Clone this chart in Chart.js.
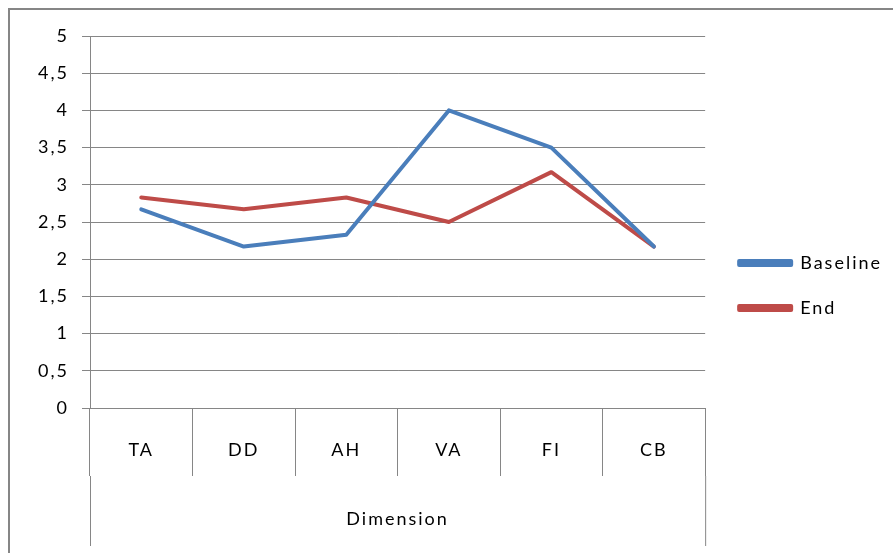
<!DOCTYPE html>
<html lang="en">
<head>
    <meta charset="UTF-8">
    <meta name="viewport" content="width=device-width, initial-scale=1.0">
    <script src="https://cdn.jsdelivr.net/npm/chart.js"></script>
    <title>Baseline x End</title>
    <style>
      body { margin: 0; background: #fff; }
      #box { width: 893px; height: 553px; }
    </style>
</head>
<body>
    <div id="box">
        <canvas id="myLineChart" width="893" height="553"></canvas>
    </div>

<script>
  // dados do grafico
  const dimensoes = ["TA", "DD", "AH", "VA", "FI", "CB"];
  const baseline = [2.67, 2.17, 2.33, 4.0, 3.5, 2.17];
  const fim = [2.83, 2.67, 2.83, 2.5, 3.17, 2.17];
  const tituloEixoX = "Dimension";

  const cinza = "#868686";
  const fonte = { family: "Lato", size: 18 };

  // texto um pouco espacado, parecido com o Calibri do Excel
  const espacamento = {
    id: "espacamento",
    beforeUpdate(chart) { chart.ctx.letterSpacing = "2px"; },
    beforeDraw(chart) { chart.ctx.letterSpacing = "2px"; },
    afterLayout(chart) {
      // empurra a legenda um pouco p/ direita e p/ cima
      chart.legend.left += 7;
      chart.legend.top -= 9;
      chart.legend.bottom -= 9;
    }
  };

  // moldura externa e as linhas do segundo nivel do eixo x (estilo Excel)
  const moldura = {
    id: "moldura",
    afterDraw(chart) {
      const ctx = chart.ctx;
      const area = chart.chartArea;
      const eixoX = chart.scales.x;
      ctx.save();
      ctx.strokeStyle = cinza;
      ctx.lineWidth = 2;
      ctx.beginPath();
      ctx.moveTo(9, chart.height);
      ctx.lineTo(9, 9);
      ctx.lineTo(chart.width, 9);
      ctx.stroke();

      ctx.lineWidth = 1;
      const y1 = area.bottom + eixoX.options.grid.tickLength;
      const y2 = area.bottom + 138;
      ctx.beginPath();
      ctx.moveTo(area.left + 0.5, y1);
      ctx.lineTo(area.left + 0.5, y2);
      ctx.moveTo(area.right + 0.5, y1);
      ctx.lineTo(area.right + 0.5, y2);
      ctx.stroke();
      ctx.restore();
    }
  };

  const config = {
    type: "line",
    data: {
      labels: dimensoes,
      datasets: [
        {
          label: "Baseline",
          data: baseline,
          borderColor: "#4A7EBB",
          backgroundColor: "#4A7EBB",
          borderWidth: 4,
          pointRadius: 0,
          tension: 0,
          borderCapStyle: "round",
          borderJoinStyle: "round"
        },
        {
          label: "End",
          data: fim,
          borderColor: "#BE4B48",
          backgroundColor: "#BE4B48",
          borderWidth: 4,
          pointRadius: 0,
          tension: 0,
          borderCapStyle: "round",
          borderJoinStyle: "round"
        }
      ]
    },
    options: {
      responsive: false,
      animation: false,
      events: [],
      layout: { padding: { top: 36, left: 0, right: 8, bottom: 0 } },
      plugins: {
        tooltip: { enabled: false },
        legend: {
          position: "right",
          labels: {
            color: "#000",
            font: fonte,
            boxWidth: 52,
            boxHeight: 4,
            padding: 27
          }
        }
      },
      scales: {
        x: {
          offset: true,
          grid: {
            offset: true,
            drawOnChartArea: false,
            tickLength: 68,
            tickColor: cinza,
            color: cinza
          },
          border: { color: cinza },
          ticks: {
            color: "#000",
            font: fonte,
            maxRotation: 0,
            autoSkip: false,
            padding: -37
          },
          title: {
            display: true,
            text: tituloEixoX,
            color: "#000",
            font: fonte,
            padding: { top: 0, bottom: 23 }
          },
          afterFit(scale) { scale.height = 145; }
        },
        y: {
          min: 0,
          max: 5,
          ticks: {
            stepSize: 0.5,
            color: "#000",
            font: fonte,
            padding: 13,
            callback: (v) => v.toString().replace(".", ",")
          },
          grid: { color: cinza, tickColor: cinza, tickLength: 8 },
          border: { color: cinza },
          afterFit(scale) { scale.width = 90; }
        }
      }
    },
    plugins: [espacamento, moldura]
  };

  let myLineChart = new Chart(document.getElementById("myLineChart"), config);
</script>
</body>
</html>
